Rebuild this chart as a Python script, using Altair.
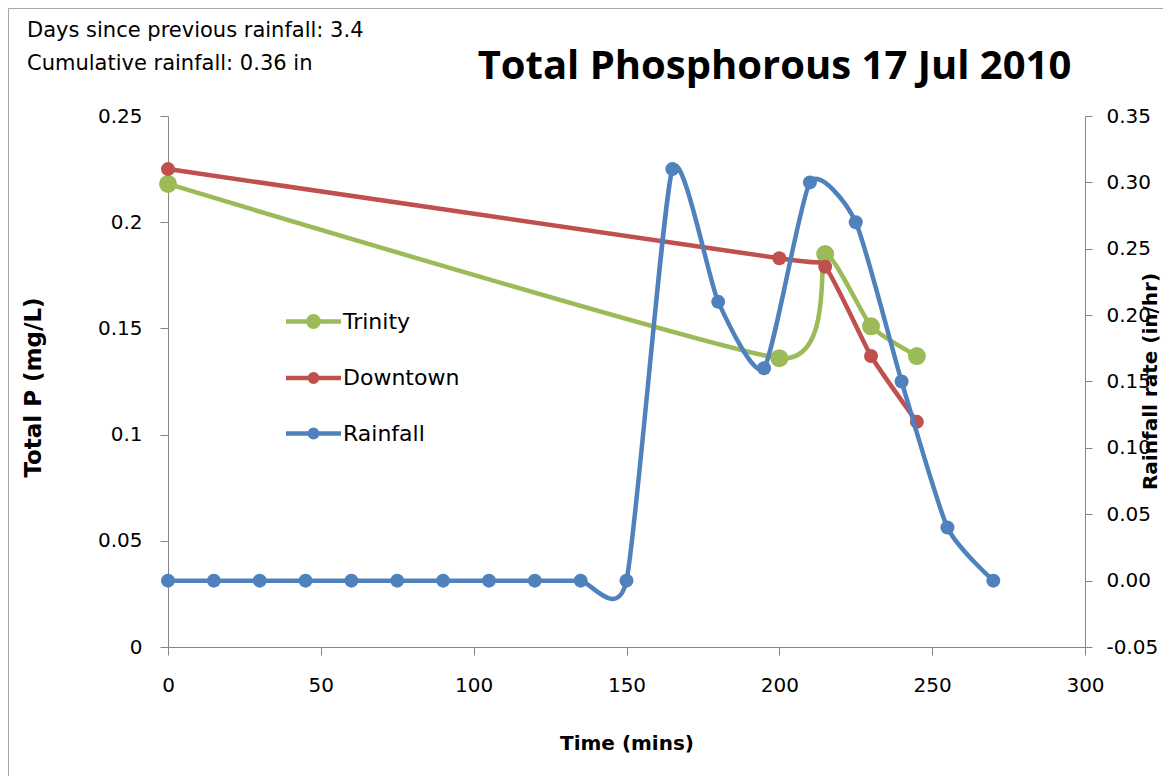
import altair as alt
import pandas as pd

# ---------------- data ----------------
time_p = [0, 200, 215, 230, 245]
trinity = [0.218, 0.136, 0.185, 0.151, 0.137]
downtown = [0.225, 0.183, 0.179, 0.137, 0.106]

time_r = [0, 15, 30, 45, 60, 75, 90, 105, 120, 135, 150,
          165, 180, 195, 210, 225, 240, 255, 270]
rainfall = [0.00, 0.00, 0.00, 0.00, 0.00, 0.00, 0.00, 0.00, 0.00, 0.00, 0.00,
            0.31, 0.21, 0.16, 0.30, 0.27, 0.15, 0.04, 0.00]

x_ticks = [0, 50, 100, 150, 200, 250, 300]
left_ticks = [0, 0.05, 0.1, 0.15, 0.2, 0.25]
right_ticks = [-0.05, 0.0, 0.05, 0.10, 0.15, 0.20, 0.25, 0.30, 0.35]

series_names = ["Trinity", "Downtown", "Rainfall"]
series_colors = ["#9BBB59", "#C0504D", "#4F81BD"]

chart_title = "Total Phosphorous 17 Jul 2010"
notes = ["Days since previous rainfall: 3.4", "Cumulative rainfall: 0.36 in"]

FONT = "DejaVu Sans"
TITLE_FONT = "Open Sans"
AXIS_GRAY = "#868686"


# legend symbols: a line with a dot (units scaled by sqrt(symbolSize)/2)
def legend_path(r):
    return (f"M-2.75,0H2.75M{r},0A{r},{r},0,1,1,-{r},0A{r},{r},0,1,1,{r},0")


legend_paths = [legend_path(0.52), legend_path(0.37), legend_path(0.37)]

df_t = pd.DataFrame({"time": time_p, "value": trinity})
df_d = pd.DataFrame({"time": time_p, "value": downtown})
df_r = pd.DataFrame({"time": time_r, "value": rainfall})

x_enc = alt.X("time:Q", scale=alt.Scale(domain=[0, 300], nice=False),
              axis=alt.Axis(values=x_ticks, title="Time (mins)", titleY=96,
                            titleBaseline="middle", titleFontSize=20,
                            tickSize=8, labelPadding=20, labelFontSize=20,
                            labelFlush=False, grid=False))

y_left_scale = alt.Scale(domain=[0, 0.25], nice=False, zero=False)
y_left_axis = alt.Axis(values=left_ticks, format="~g", title="Total P (mg/L)",
                       titleAngle=-90, titleX=-135, titleY=271,
                       titleBaseline="middle", titleAlign="center", titleFontSize=23,
                       tickSize=8, labelPadding=18, labelFontSize=20,
                       labelFlush=False, grid=False)
y_left = alt.Y("value:Q", scale=y_left_scale, axis=y_left_axis)

y_right = alt.Y("value:Q", scale=alt.Scale(domain=[-0.05, 0.35], nice=False, zero=False),
                axis=alt.Axis(values=right_ticks, format=".2f",
                              labelExpr="replace(format(datum.value, '.2f'), '\u2212', '-')",
                              orient="right",
                              title="Rainfall rate (in/hr)", titleAngle=-90,
                              titleX=65, titleY=265, titleBaseline="middle",
                              titleAlign="center", titleFontSize=20,
                              tickSize=7, labelPadding=14,
                              labelFontSize=20, labelFlush=False, grid=False))

SW = 4.5

t_line = alt.Chart(df_t).mark_line(color=series_colors[0], strokeWidth=SW,
                                   interpolate="cardinal", tension=0.5).encode(
    x=x_enc, y=y_left)
t_pts = alt.Chart(df_t).mark_circle(color=series_colors[0], size=324, opacity=1).encode(
    x=x_enc, y=y_left)
d_line = alt.Chart(df_d).mark_line(color=series_colors[1], strokeWidth=SW,
                                   interpolate="cardinal", tension=0.5).encode(
    x=x_enc, y=y_left)
d_pts = alt.Chart(df_d).mark_circle(color=series_colors[1], size=196, opacity=1).encode(
    x=x_enc, y=y_left)

r_line = alt.Chart(df_r).mark_line(color=series_colors[2], strokeWidth=SW,
                                   interpolate="cardinal", tension=0.4).encode(
    x=x_enc, y=y_right)
r_pts = alt.Chart(df_r).mark_circle(color=series_colors[2], size=196, opacity=1).encode(
    x=x_enc, y=y_right)

# legend (built from the fill / stroke / shape scales)
leg = alt.Legend(title=None, orient="none", legendX=133, legendY=193,
                 symbolSize=400, symbolStrokeWidth=SW, symbolOpacity=1,
                 labelOffset=17, rowPadding=28.5, padding=0,
                 labelFont=FONT, labelFontSize=22, labelColor="black")
legend_layer = alt.Chart(pd.DataFrame({"series": series_names})).mark_point(
    strokeWidth=SW).encode(
    fill=alt.Fill("series:N", scale=alt.Scale(domain=series_names, range=series_colors),
                  legend=leg),
    stroke=alt.Stroke("series:N", scale=alt.Scale(domain=series_names, range=series_colors),
                      legend=leg),
    shape=alt.Shape("series:N", scale=alt.Scale(domain=series_names, range=legend_paths),
                    legend=leg),
).transform_filter("false")

# decorations: chart border, title and notes
border = alt.Chart(pd.DataFrame({"a": [0]})).mark_rect(
    fill=None, stroke="#A6A6A6", strokeWidth=1).encode(
    x=alt.value(-159.5), x2=alt.value(2000), y=alt.value(-107.5), y2=alt.value(2000))

title_mark = alt.Chart(pd.DataFrame({"t": [chart_title]})).mark_text(
    align="center", baseline="alphabetic", font=TITLE_FONT, fontSize=40,
    fontWeight="bold", color="black").encode(
    text="t:N", x=alt.value(606.5), y=alt.value(-37))

note1 = alt.Chart(pd.DataFrame({"t": [notes[0]]})).mark_text(
    align="left", baseline="middle", font=FONT, fontSize=21, color="black").encode(
    text="t:N", x=alt.value(-141), y=alt.value(-85))
note2 = alt.Chart(pd.DataFrame({"t": [notes[1]]})).mark_text(
    align="left", baseline="middle", font=FONT, fontSize=21, color="black").encode(
    text="t:N", x=alt.value(-141), y=alt.value(-52))

left = alt.layer(border, title_mark, note1, note2, t_line, t_pts, d_line, d_pts,
                 legend_layer)
right = alt.layer(r_line, r_pts)

chart = alt.layer(left, right).resolve_scale(y="independent").properties(
    width=917, height=531,
    padding={"left": 160, "top": 108, "right": 78, "bottom": 129},
    autosize=alt.AutoSizeParams(type="none"),
    background="white",
).configure_view(strokeWidth=0).configure_axis(
    grid=False, domainColor=AXIS_GRAY, tickColor=AXIS_GRAY, domainWidth=1,
    labelFont=FONT, labelColor="black", titleFont=FONT,
    titleFontWeight="bold", titleColor="black",
)

chart.save("out.html", embed_options={"renderer": "svg", "actions": False})
